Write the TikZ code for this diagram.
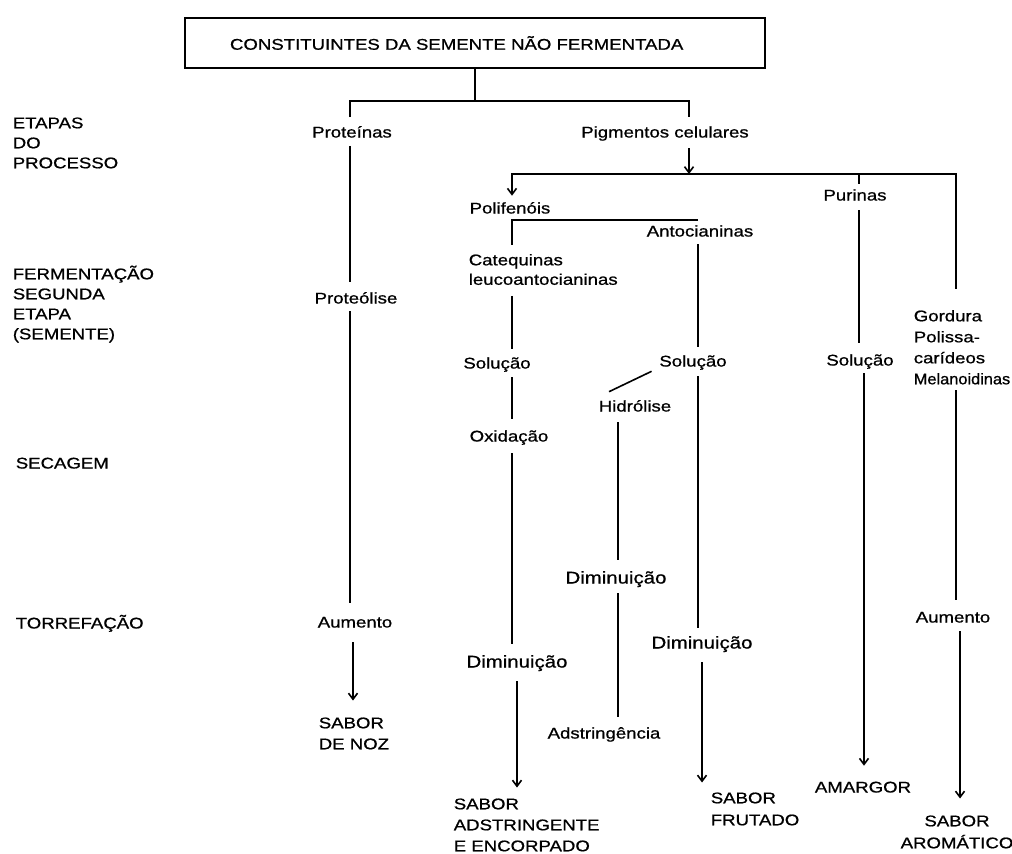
\documentclass[tikz,border=0pt]{standalone}
\usepackage{fontspec}
\setmainfont{Liberation Sans}[FakeStretch=1.2,FakeBold=0.8]
\usepackage{graphicx}
\usetikzlibrary{arrows.meta,calc}
\newcommand\myfl{\rule{0pt}{16pt}}
\newcommand\fsz{\fontsize{15.5}{20}\selectfont}
\begin{document}
\begin{tikzpicture}[x=1pt,y=-1pt, line width=1.6pt,
  lbl/.style={inner sep=0pt, font=\fsz, text height=16pt, text depth=4pt, anchor=base},
  big/.style={lbl, font=\fontsize{17}{20}\selectfont},
  ml/.style={inner sep=0pt, align=left, anchor=north west, font=\fontsize{15.5}{#1}\selectfont},
  ml/.default=20,
  arr/.style={-{Straight Barb[length=6pt,width=9pt]}}]
\useasboundingbox (0,0) rectangle (1012,854);

% columns and junctions
\coordinate (cA) at (350,0);
\coordinate (cAa) at (353,0);
\coordinate (cB) at (512,0);
\coordinate (cBb) at (517,0);
\coordinate (cC) at (618,0);
\coordinate (cD) at (698,0);
\coordinate (cDa) at (702,0);
\coordinate (cE) at (859,0);
\coordinate (cEa) at (864,0);
\coordinate (cF) at (956,0);
\coordinate (cFa) at (960,0);
\coordinate (cP) at (689,0);
\coordinate (j1) at (475,101);
\coordinate (j2) at (689,174);
\coordinate (j3) at (698,220);

% title
\node[draw, inner ysep=0pt, inner xsep=45pt, text width=490pt, align=left,
      minimum height=50pt, font=\fsz] (title) at (475,43)
      {CONSTITUINTES DA SEMENTE NÃO FERMENTADA};

% stage labels
\node[ml] (etapas) at (12,111.5) {\myfl ETAPAS\\DO\\PROCESSO};
\node[ml] (ferm) at (12,262.5) {\myfl FERMENTAÇÃO\\SEGUNDA\\ETAPA\\(SEMENTE)};
\node[lbl, anchor=base west] (secag) at (15,468.5) {SECAGEM};
\node[lbl, anchor=base west] (torref) at (15,628.5) {TORREFAÇÃO};

% proteins column
\node[lbl] (prot) at (352,137.5) {Proteínas};
\node[lbl] (proteol) at (356,303.5) {Proteólise};
\node[lbl] (aumA) at (355,627.5) {Aumento};
\node[ml=21] (noz) at (318,711.5) {\myfl SABOR\\DE NOZ};

% pigments
\node[lbl] (pig) at (665,137.5) {Pigmentos celulares};
\node[lbl] (poli) at (510,213.5) {Polifenóis};
\node[lbl] (anto) at (700,236.5) {Antocianinas};
\node[ml=19.5] (cat) at (468,248.5) {\myfl Catequinas\\leucoantocianinas};
\node[lbl] (solL) at (497,368.5) {Solução};
\node[lbl] (oxi) at (509,441.5) {Oxidação};
\node[big] (dimL) at (517,667.5) {Diminuição};
\node[ml=21] (sabL) at (453,792.5) {\myfl SABOR\\ADSTRINGENTE\\E ENCORPADO};

\node[lbl] (solM) at (693,366.5) {Solução};
\node[lbl] (hid) at (635,411.5) {Hidrólise};
\node[big] (dimH) at (616,583.5) {Diminuição};
\node[lbl] (adst) at (604,738.5) {Adstringência};
\node[big] (dimR) at (702,648.5) {Diminuição};
\node[ml=22] (frut) at (710,786.5) {\myfl SABOR\\FRUTADO};

\node[lbl] (pur) at (855,200.5) {Purinas};
\node[lbl] (solR) at (860,365.5) {Solução};
\node[lbl] (amarg) at (863,792.5) {AMARGOR};
\node[ml=21] (gord) at (913,304.5) {\myfl Gordura\\Polissa-\\carídeos\\\scalebox{0.88}[1]{Melanoidinas}};
\node[lbl] (aumR) at (953,622.5) {Aumento};
\node[inner sep=0pt, align=center, anchor=north, font=\fontsize{15.5}{22}\selectfont]
      (arom) at (957,809.5) {\myfl SABOR\\AROMÁTICO};

% connectors: top
\draw (title.south) -- (j1);
\draw[shorten <=3.5pt, shorten >=3.5pt] (prot.north -| cA) |- (j1) -| (pig.north -| cP);
\draw[arr, shorten <=6pt] (pig.south -| cP) -- (j2);
\draw[arr, shorten <=16pt, shorten >=1pt] (gord.north -| cF) |- (j2) -| (poli.north -| cB);
\draw (j2 -| cE) -- (pur.north -| cE);

% proteins
\draw[shorten <=3.5pt, shorten >=4.5pt] (prot.south -| cA) -- (proteol.north -| cA);
\draw[shorten <=3pt, shorten >=8pt] (proteol.south -| cA) -- (aumA.north -| cA);
\draw[arr, shorten <=10pt, shorten >=11pt] (aumA.south -| cAa) -- (noz.north -| cAa);

% polyphenols
\draw[shorten >=3.5pt] (j3) -| (cat.north -| cB);
\draw[shorten <=3pt, shorten >=3pt] (anto.south -| cD) -- (solM.north -| cD);
\draw[shorten <=10pt, shorten >=3pt] (cat.south -| cB) -- (solL.north -| cB);
\draw[shorten <=4pt, shorten >=6pt] (solL.south -| cB) -- (oxi.north -| cB);
\draw[shorten <=7pt, shorten >=7pt] (oxi.south -| cB) -- (dimL.north -| cB);
\draw[arr, shorten <=9pt, shorten >=5pt] (dimL.south -| cBb) -- (sabL.north -| cBb);

\draw[shorten <=5pt, shorten >=4pt] (solM.south -| cD) -- (dimR.north -| cD);
\draw[arr, shorten <=9pt, shorten >=4pt] (dimR.south -| cDa) -- (frut.north -| cDa);
\draw ($(solM.south west)+(-7,0)$) -- ($(hid.north west)+(11,-3)$);
\draw[shorten <=6pt, shorten >=7pt] (hid.south -| cC) -- (dimH.north -| cC);
\draw[shorten <=5pt, shorten >=5pt] (dimH.south -| cC) -- (adst.north -| cC);

% purines
\draw[shorten <=5pt, shorten >=6pt] (pur.south -| cE) -- (solR.north -| cE);
\draw[arr, shorten <=3pt, shorten >=10pt] (solR.south -| cEa) -- (amarg.north -| cEa);

% fats
\draw[shorten <=5pt, shorten >=6pt] (gord.south -| cF) -- (aumR.north -| cF);
\draw[arr, shorten <=4pt, shorten >=11pt] (aumR.south -| cFa) -- (arom.north -| cFa);
\end{tikzpicture}
\end{document}
